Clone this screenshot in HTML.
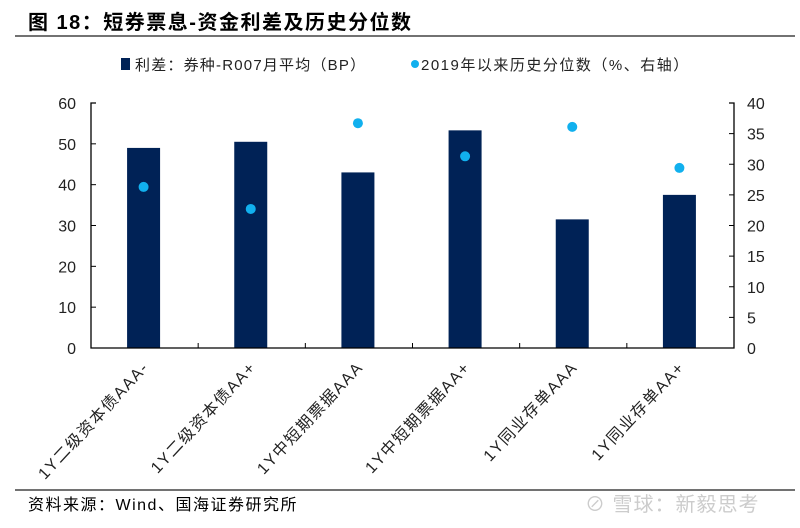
<!DOCTYPE html>
<html><head><meta charset="utf-8"><style>
body{margin:0;background:#fff;}
svg text{font-family:"Liberation Sans","Noto Sans CJK SC",sans-serif;}
</style></head><body>
<svg width="800" height="523" xmlns="http://www.w3.org/2000/svg">
<text x="28" y="29" font-size="20" font-weight="bold" fill="#000" letter-spacing="1.5">图 18：短券票息-资金利差及历史分位数</text>
<line x1="15" y1="36" x2="795" y2="36" stroke="#444" stroke-width="1.5"/>
<g>
<rect x="121" y="58" width="9" height="12" fill="#002256"/>
<text x="135" y="70" font-size="15" fill="#222" letter-spacing="1.2">利差：券种-R007月平均（BP）</text>
<circle cx="415" cy="64" r="4" fill="#11b0ee"/>
<text x="421" y="70" font-size="15" fill="#222" letter-spacing="1.5">2019年以来历史分位数（%、右轴）</text>
</g>
<g id="plot"></g>
<line x1="15" y1="490" x2="795" y2="490" stroke="#444" stroke-width="1.5"/>
<text x="28" y="510" font-size="16" fill="#000" letter-spacing="1.5">资料来源：Wind、国海证券研究所</text>
<text x="585" y="511" font-size="20" fill="#ccc" letter-spacing="1">⊘ 雪球：新毅思考</text>
</svg>
<script>
const categories=["1Y二级资本债AAA-","1Y二级资本债AA+","1Y中短期票据AAA","1Y中短期票据AA+","1Y同业存单AAA","1Y同业存单AA+"];
const spreads=[49,50.5,43,53.3,31.5,37.5];
const percentiles=[26.3,22.7,36.7,31.3,36.1,29.4];
const leftTicks=[0,10,20,30,40,50,60];
const rightTicks=[0,5,10,15,20,25,30,35,40];
const NS="http://www.w3.org/2000/svg";
const g=document.getElementById('plot');
const X0=91,X1=734,Y0=348,Y1=103;
const bw=(X1-X0)/categories.length;
const yL=v=>Y0-(v/60)*(Y0-Y1);
const yR=v=>Y0-(v/40)*(Y0-Y1);
const xc=i=>X0+bw*(i+0.5)-1;
function mk(t,a){const e=document.createElementNS(NS,t);for(const k in a)e.setAttribute(k,a[k]);g.appendChild(e);return e;}
spreads.forEach((v,i)=>{
 const r=mk('rect',{x:xc(i)-16.5,y:yL(v),width:33,height:Y0-yL(v),fill:'#002256'});
 
 
});
percentiles.forEach((v,i)=>{
 const c=mk('circle',{cx:xc(i),cy:yR(v),r:5,fill:'#11b0ee'});
 
 
});
const ax=mk('path',{d:`M${X0+5},${Y1}H${X0}V${Y0}H${X1}V${Y1}H${X1-5}`,fill:'none',stroke:'#000','stroke-width':1.3});


leftTicks.forEach(v=>{
 mk('line',{x1:X0,x2:X0+5,y1:yL(v),y2:yL(v),stroke:'#000'});
 const t=mk('text',{x:X0-15,y:yL(v)+6,'font-size':16,'text-anchor':'end',fill:'#222'});t.textContent=v;
 
 
});
rightTicks.forEach(v=>{
 mk('line',{x1:X1,x2:X1-5,y1:yR(v),y2:yR(v),stroke:'#000'});
 const t=mk('text',{x:X1+13,y:yR(v)+6,'font-size':16,fill:'#222'});t.textContent=v;
 
 
});
for(let i=1;i<categories.length;i++){mk('line',{x1:X0+bw*i,x2:X0+bw*i,y1:Y0,y2:Y0-5,stroke:'#000'});}
categories.forEach((c,i)=>{
 const x=xc(i)+6,y=Y0+20;
 const t=mk('text',{x:x,y:y,'font-size':16,'letter-spacing':1.5,'text-anchor':'end',fill:'#222',transform:`rotate(-47 ${x} ${y})`});t.textContent=c;
 
 
});
</script>
</body></html>
